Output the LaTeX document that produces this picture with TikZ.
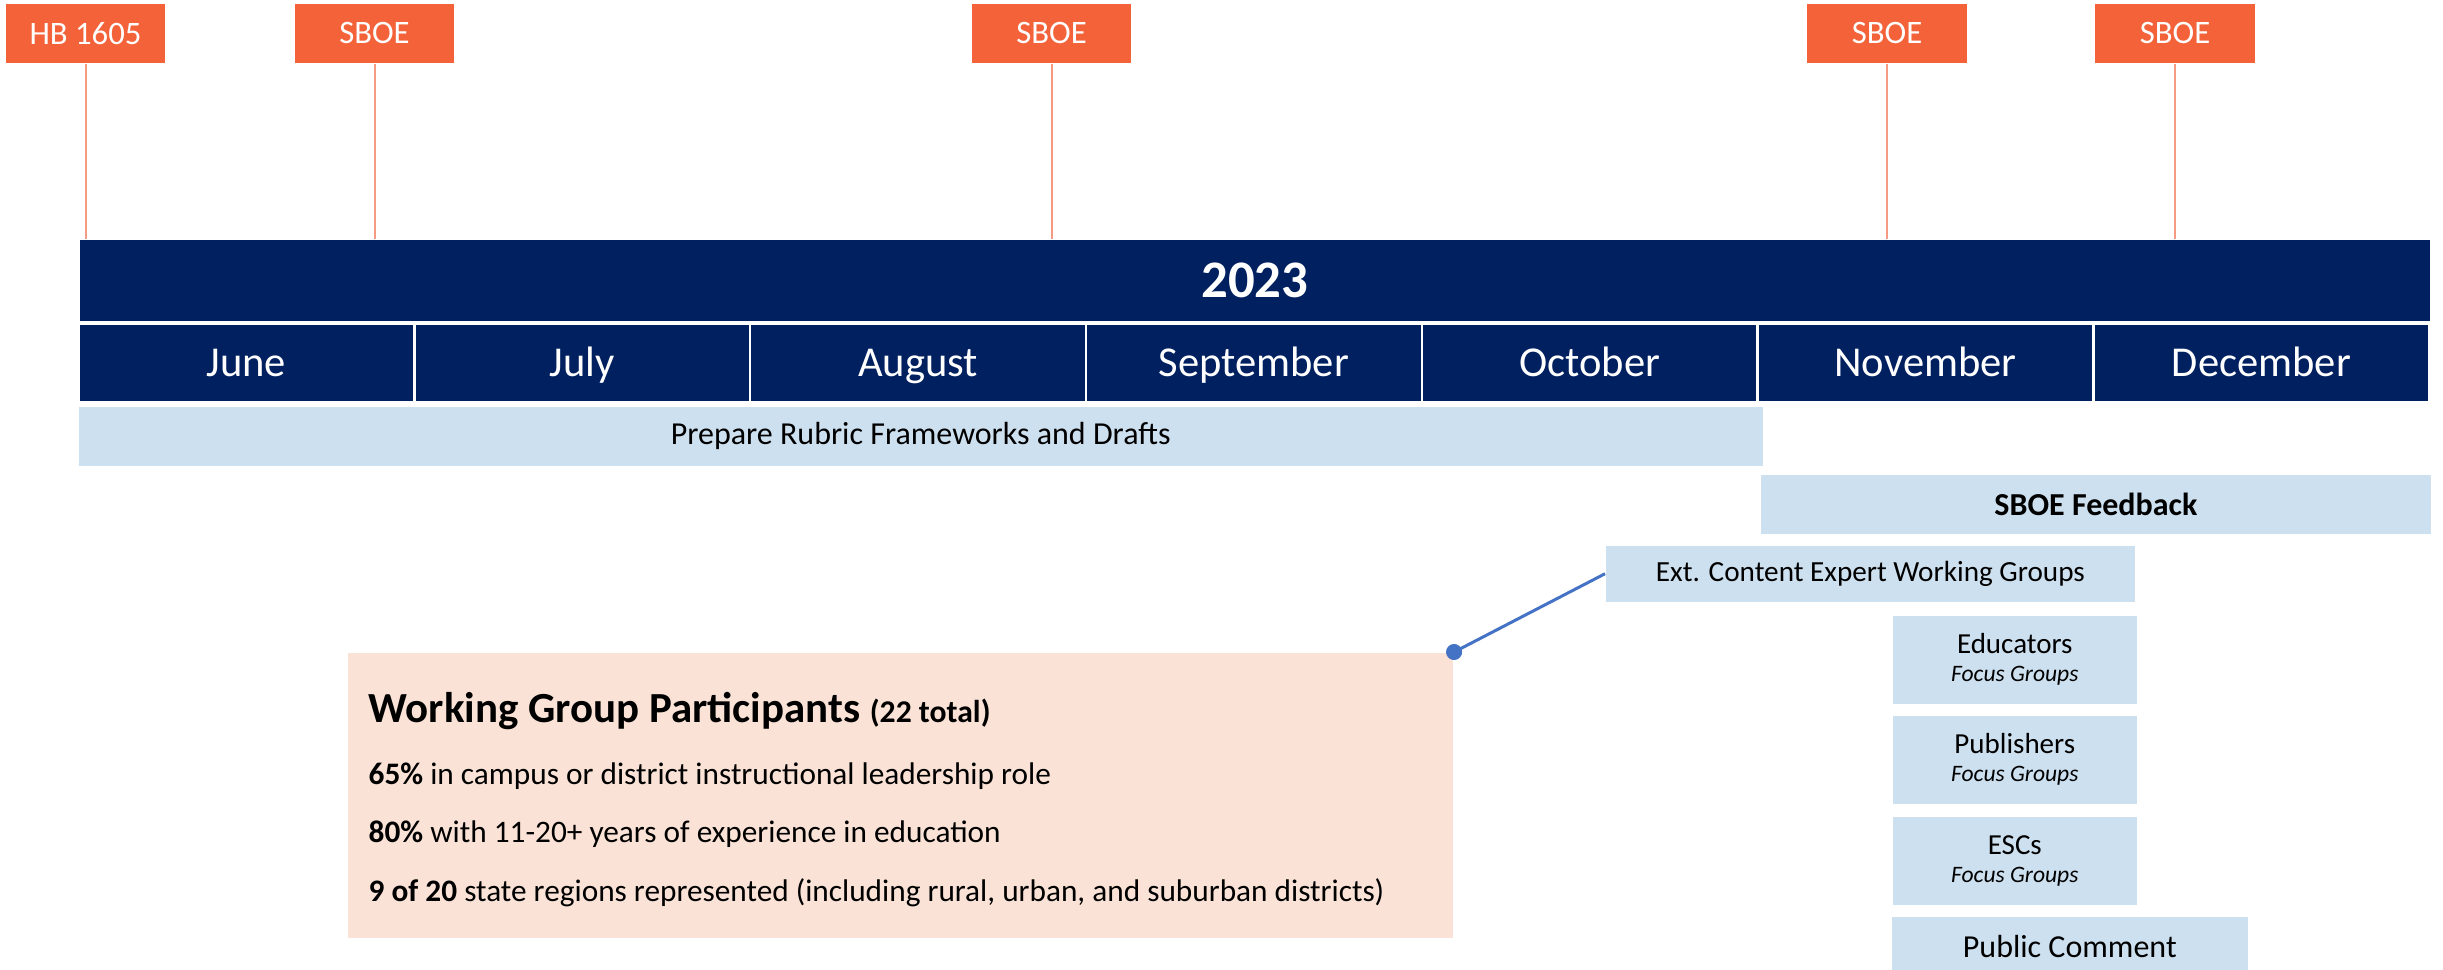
\documentclass[tikz,border=0pt]{standalone}
\usepackage{fontspec}
\setmainfont{Carlito}
\usetikzlibrary{arrows.meta}
\definecolor{navy}{HTML}{002060}
\definecolor{tagorange}{HTML}{F4623A}
\definecolor{tagline}{HTML}{F59B84}
\definecolor{lightblue}{HTML}{CDE0EF}
\definecolor{peach}{HTML}{FAE3D6}
\definecolor{connblue}{HTML}{4472C4}
\begin{document}
\begin{tikzpicture}[x=0.01cm,y=-0.01cm,
  tag/.style={fill=tagorange,text=white,minimum width=1.59cm,minimum height=0.59cm,inner sep=0pt,
    font=\fontsize{9.3}{11}\selectfont},
  tagstem/.style={draw=tagline,line width=0.02cm},
  month/.style={fill=navy,text=white,minimum width=3.331cm,minimum height=0.76cm,inner sep=0pt,
    anchor=north west,font=\fontsize{12.1}{14}\selectfont,text height=7.8pt,text depth=0pt},
  bluebox/.style={fill=lightblue,inner sep=0pt,anchor=north west,font=\fontsize{9.1}{11}\selectfont},
  fgbox/.style={bluebox,minimum width=2.44cm,minimum height=0.88cm,align=center,font=\fontsize{8.25}{8}\selectfont},
  bodytxt/.style={anchor=base west,inner sep=0pt,font=\fontsize{8.9}{11}\selectfont},
  conn/.style={draw=connblue,line width=0.03cm,-{Circle[length=0.16cm]},shorten >=-0.08cm}
]
\useasboundingbox (0,0) rectangle (2443,970);

% tags
\node[tag] (hb) at (85.5,33.5) {HB 1605};
\node[tag] (s1) at (374.5,33.5) {SBOE};
\node[tag] (s2) at (1051.5,33.5) {SBOE};
\node[tag] (s3) at (1887,33.5) {SBOE};
\node[tag] (s4) at (2175,33.5) {SBOE};

% year bar
\node[fill=navy,text=white,minimum width=23.49cm,minimum height=0.81cm,inner sep=0pt,anchor=north west,
  font=\fontsize{15}{18}\selectfont\bfseries] (year) at (79,239) {2023};

\foreach \s in {hb,s1,s2,s3,s4}
  \draw[tagstem] (\s.south) -- (\s.south |- year.north);

% months
\foreach \m [count=\i from 0] in {June,July,August,September,October,November,December}
  \node[month] (m\i) at (79+335.83*\i,324) {\m};

% activity bars
\node[bluebox,minimum width=16.83cm,minimum height=0.59cm] (prep) at (78,406) {Prepare Rubric Frameworks and Drafts};
\node[bluebox,minimum width=6.70cm,minimum height=0.59cm,font=\fontsize{9.1}{11}\selectfont\bfseries] (fb) at (1760,474) {SBOE Feedback};
\node[bluebox,minimum width=5.29cm,minimum height=0.56cm,font=\fontsize{8.3}{10}\selectfont] (ext) at (1605,545) {Ext. Content Expert Working Groups};
\node[fgbox] (edu) at (1892,615) {Educators\\{\fontsize{6.7}{8}\selectfont\itshape Focus Groups}};
\node[fgbox] (pub) at (1892,715) {Publishers\\{\fontsize{6.7}{8}\selectfont\itshape Focus Groups}};
\node[fgbox] (esc) at (1892,816) {ESCs\\{\fontsize{6.7}{8}\selectfont\itshape Focus Groups}};
\node[bluebox,minimum width=3.56cm,minimum height=0.60cm] (pc) at (1891,916) {Public Comment};

% working group box
\node[fill=peach,minimum width=11.05cm,minimum height=2.85cm,inner sep=0pt,anchor=north west] (wg) at (347,652) {};
\node[bodytxt,font=\fontsize{12.2}{14}\selectfont\bfseries] (wgt) at (368,722) {Working Group Participants {\fontsize{9}{11}\selectfont (22 total)}};
\node[bodytxt] (l1) at (368,784) {\textbf{65\%} in campus or district instructional leadership role};
\node[bodytxt] (l2) at (368,842) {\textbf{80\%} with 11-20+ years of experience in education};
\node[bodytxt] (l3) at (368,901) {\textbf{9 of 20} state regions represented (including rural, urban, and suburban districts)};

\draw[conn] (ext.west) -- (wg.north east);
\end{tikzpicture}
\end{document}
